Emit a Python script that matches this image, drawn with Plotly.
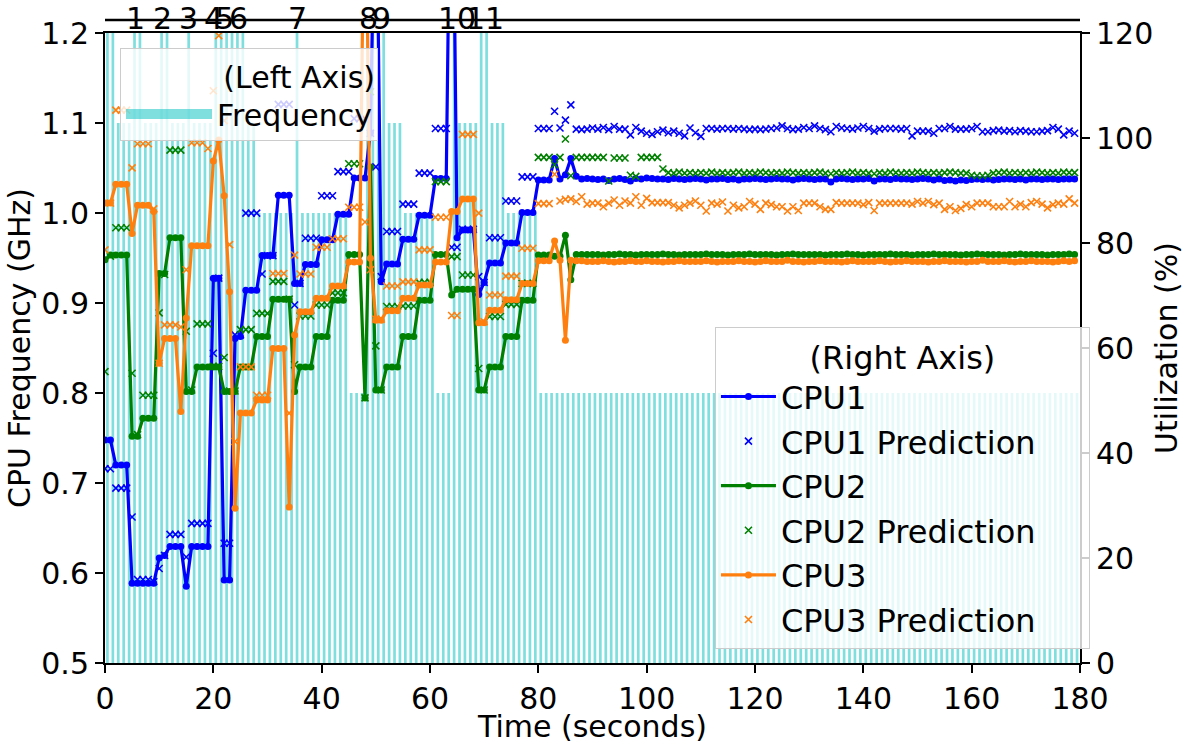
import plotly.graph_objects as go

# ---------------- data ----------------
time_s = list(range(180))

freq_ghz = [
    1.4, 1.4, 1.1, 1.1, 1.1, 1.4, 1.4, 1.1, 1.1, 1.1,
    1.4, 1.4, 1.1, 1.1, 1.1, 1.4, 1.1, 1.1, 1.1, 1.1,
    1.4, 1.4, 1.4, 1.4, 1.4, 1.4, 1.1, 1.1, 1.0, 1.0,
    1.0, 1.0, 1.0, 1.0, 1.0, 1.4, 1.0, 1.0, 1.0, 1.0,
    1.0, 1.0, 1.0, 1.0, 1.0, 0.8, 0.8, 0.8, 1.4, 1.4,
    1.4, 1.4, 1.1, 1.1, 1.1, 1.0, 1.0, 1.0, 1.0, 1.0,
    1.0, 0.8, 0.8, 0.8, 1.4, 1.1, 1.1, 1.1, 1.1, 1.4,
    1.4, 1.1, 1.1, 1.1, 1.0, 1.0, 1.0, 1.0, 1.0, 1.0,
    0.8, 0.8, 0.8, 0.8, 0.8, 0.8, 0.8, 0.8, 0.8, 0.8,
    0.8, 0.8, 0.8, 0.8, 0.8, 0.8, 0.8, 0.8, 0.8, 0.8,
    0.8, 0.8, 0.8, 0.8, 0.8, 0.8, 0.8, 0.8, 0.8, 0.8,
    0.8, 0.8, 0.8, 0.8, 0.8, 0.8, 0.8, 0.8, 0.8, 0.8,
    0.8, 0.8, 0.8, 0.8, 0.8, 0.8, 0.8, 0.8, 0.8, 0.8,
    0.8, 0.8, 0.8, 0.8, 0.8, 0.8, 0.8, 0.8, 0.8, 0.8,
    0.8, 0.8, 0.8, 0.8, 0.8, 0.8, 0.8, 0.8, 0.8, 0.8,
    0.8, 0.8, 0.8, 0.8, 0.8, 0.8, 0.8, 0.8, 0.8, 0.8,
    0.8, 0.8, 0.8, 0.8, 0.8, 0.8, 0.8, 0.8, 0.8, 0.8,
    0.8, 0.8, 0.8, 0.8, 0.8, 0.8, 0.8, 0.8, 0.8, 0.8,
]

cpu1_util = [
    42.5, 42.5, 37.7, 37.7, 37.7, 15.2, 15.2, 15.2, 15.2, 15.2,
    20.0, 20.5, 22.2, 22.2, 22.2, 14.6, 22.2, 22.2, 22.2, 22.2,
    73.3, 73.3, 15.8, 15.8, 61.8, 62.2, 71.0, 71.0, 71.0, 77.6,
    77.6, 77.6, 89.1, 89.1, 89.1, 72.3, 72.3, 75.9, 75.9, 75.9,
    80.6, 80.6, 80.6, 85.5, 85.5, 85.5, 92.4, 92.4, 92.4, 101.0,
    160.0, 72.6, 76.0, 76.0, 76.0, 80.7, 80.7, 80.7, 85.3, 85.3,
    85.3, 92.3, 92.3, 92.3, 175.0, 81.0, 82.5, 82.5, 82.5, 70.2,
    72.5, 76.2, 76.2, 76.2, 80.0, 80.0, 80.0, 85.8, 85.8, 85.8,
    92.0, 92.0, 92.0, 96.1, 92.2, 93.0, 96.1, 92.7, 92.2, 92.3,
    92.2, 92.1, 92.2, 91.9, 92.2, 92.3, 92.1, 91.8, 92.3, 92.2,
    92.4, 92.3, 92.2, 92.2, 92.1, 92.3, 92.2, 92.1, 92.2, 92.3,
    92.2, 92.0, 92.2, 92.2, 92.3, 92.1, 92.2, 92.0, 92.2, 92.2,
    92.3, 92.2, 92.1, 92.2, 92.3, 92.2, 92.2, 92.0, 92.2, 92.3,
    92.2, 92.1, 92.2, 92.2, 91.6, 92.2, 92.3, 92.2, 92.1, 92.2,
    92.2, 92.3, 91.8, 92.2, 92.2, 92.1, 92.3, 92.2, 92.2, 92.1,
    92.2, 92.3, 92.2, 92.0, 92.2, 91.9, 92.0, 91.8, 92.0, 91.9,
    92.1, 92.2, 92.1, 92.2, 92.0, 92.1, 92.2, 92.2, 92.1, 92.2,
    92.0, 92.2, 92.2, 92.1, 92.2, 92.2, 92.1, 92.2, 92.2, 92.2,
]

cpu1_pred = [
    37.0, 37.0, 33.3, 33.3, 33.3, 27.8, 15.9, 15.9, 15.9, 15.5,
    18.0, 20.5, 24.5, 24.5, 24.5, 20.2, 26.6, 26.6, 26.6, 26.6,
    59.0, 73.3, 22.8, 22.8, 62.5, 62.5, 85.7, 85.7, 85.7, 74.1,
    77.6, 77.6, 106.4, 106.4, 106.4, 68.2, 72.3, 80.9, 80.9, 80.9,
    89.0, 89.0, 89.0, 93.6, 93.6, 93.6, 103.7, 103.7, 103.7, 100.9,
    94.5, 73.6, 82.2, 82.2, 82.2, 87.4, 87.4, 87.4, 93.3, 93.3,
    93.3, 101.8, 101.8, 101.8, 79.2, 79.2, 82.6, 82.6, 82.6, 73.6,
    72.5, 81.0, 81.0, 81.0, 88.0, 88.0, 88.0, 92.6, 92.6, 92.6,
    101.8, 101.8, 101.8, 105.1, 101.9, 103.4, 106.3, 101.7, 101.6, 101.7,
    101.9, 101.7, 102.0, 101.6, 102.2, 101.7, 101.7, 100.6, 102.0, 101.3,
    100.9, 100.7, 101.2, 101.5, 101.0, 101.3, 100.9, 100.4, 101.9, 101.0,
    100.3, 101.8, 101.8, 101.7, 101.8, 101.8, 101.7, 101.8, 101.7, 101.6,
    101.7, 101.6, 101.7, 101.8, 101.9, 102.3, 101.8, 101.6, 101.7, 102.0,
    101.8, 102.3, 101.8, 101.6, 101.2, 102.2, 101.9, 101.8, 101.7, 101.9,
    102.2, 101.8, 101.3, 101.7, 101.8, 101.8, 101.8, 101.7, 101.8, 100.4,
    101.3, 101.3, 101.3, 100.9, 101.8, 101.8, 102.2, 101.7, 101.7, 101.7,
    101.8, 102.2, 101.2, 101.2, 101.4, 101.5, 101.3, 101.4, 101.2, 101.4,
    101.3, 101.2, 101.2, 101.3, 101.4, 102.0, 101.7, 100.6, 101.3, 100.9,
]

cpu2_util = [
    76.8, 77.7, 77.7, 77.7, 77.7, 43.2, 43.2, 46.6, 46.6, 46.6,
    74.2, 74.2, 81.0, 81.0, 81.0, 51.7, 51.7, 56.4, 56.4, 56.4,
    56.4, 56.4, 51.7, 51.7, 51.7, 56.4, 56.4, 56.4, 62.2, 62.2,
    62.2, 69.3, 69.3, 69.3, 69.3, 51.7, 56.4, 56.4, 56.4, 62.2,
    62.2, 62.2, 69.1, 69.1, 69.1, 77.8, 77.8, 77.8, 50.5, 94.5,
    52.0, 52.0, 56.4, 56.4, 56.4, 62.2, 62.2, 62.2, 69.1, 69.1,
    69.1, 77.8, 77.8, 77.8, 70.1, 71.2, 71.2, 71.2, 71.2, 52.0,
    52.0, 56.4, 56.4, 56.4, 62.2, 62.2, 62.2, 69.1, 69.1, 69.1,
    77.7, 77.7, 77.7, 77.5, 77.5, 81.5, 73.0, 77.8, 77.8, 77.8,
    77.8, 77.8, 77.7, 77.8, 77.8, 77.9, 77.8, 77.8, 77.7, 77.8,
    77.8, 77.8, 77.8, 77.9, 77.8, 77.8, 77.7, 77.8, 77.8, 77.8,
    77.8, 77.9, 77.8, 77.8, 77.8, 77.7, 77.8, 77.8, 77.8, 77.9,
    77.8, 77.8, 77.8, 77.8, 77.7, 77.8, 77.8, 77.9, 77.8, 77.8,
    77.8, 77.8, 77.8, 77.7, 77.8, 77.8, 77.8, 77.9, 77.8, 77.8,
    77.7, 77.8, 77.8, 77.8, 77.8, 77.9, 77.8, 77.8, 77.8, 77.7,
    77.8, 77.8, 77.8, 77.9, 77.8, 77.8, 77.8, 77.8, 77.7, 77.8,
    77.8, 77.9, 77.8, 77.8, 77.8, 77.8, 77.7, 77.8, 77.8, 77.9,
    77.8, 77.8, 77.8, 77.8, 77.7, 77.8, 77.8, 77.8, 77.9, 77.8,
]

cpu2_pred = [
    55.5, 77.5, 82.9, 82.9, 82.9, 55.2, 43.5, 51.0, 51.0, 51.0,
    66.7, 74.0, 97.7, 97.7, 97.7, 63.2, 52.0, 64.6, 64.6, 64.6,
    56.5, 56.5, 58.2, 51.8, 51.8, 63.5, 63.5, 63.5, 66.6, 66.6,
    66.6, 72.7, 72.7, 72.7, 69.3, 56.8, 66.1, 66.1, 66.1, 68.2,
    68.2, 68.2, 70.5, 70.5, 70.5, 95.1, 95.1, 95.1, 50.5, 108.8,
    60.4, 52.0, 67.9, 67.9, 67.9, 68.0, 68.0, 68.0, 72.5, 72.5,
    72.5, 91.7, 91.7, 91.7, 77.4, 77.4, 73.9, 73.9, 73.9, 56.1,
    52.0, 66.0, 66.0, 66.0, 68.3, 68.3, 68.3, 72.3, 72.3, 72.3,
    96.3, 96.3, 96.3, 94.9, 96.3, 99.8, 92.8, 96.3, 96.3, 96.3,
    96.3, 96.3, 96.3, 91.8, 96.2, 96.2, 96.2, 92.9, 92.7, 96.3,
    96.3, 96.3, 96.3, 94.1, 93.4, 93.3, 93.5, 93.3, 93.4, 93.3,
    93.4, 93.3, 93.5, 93.3, 93.4, 93.3, 93.4, 93.5, 93.3, 93.4,
    93.3, 93.5, 93.4, 93.3, 93.4, 93.3, 93.5, 93.4, 93.3, 93.4,
    93.3, 93.4, 93.5, 93.3, 93.2, 93.4, 93.3, 93.4, 93.5, 93.3,
    93.4, 93.3, 93.2, 93.4, 93.3, 93.5, 93.4, 93.3, 93.4, 93.3,
    93.5, 93.4, 93.3, 93.4, 93.3, 93.4, 93.5, 93.4, 93.3, 93.3,
    92.9, 92.8, 92.8, 92.9, 93.3, 93.4, 93.5, 93.3, 93.4, 93.3,
    93.4, 93.3, 93.5, 93.4, 93.3, 93.4, 93.3, 93.5, 93.4, 93.4,
]

cpu3_util = [
    87.6, 87.6, 91.2, 91.2, 91.2, 81.8, 87.2, 87.2, 87.2, 86.0,
    57.1, 61.8, 61.8, 61.8, 47.9, 65.7, 79.5, 79.5, 79.5, 79.5,
    95.6, 99.6, 89.0, 70.7, 29.5, 47.6, 47.6, 47.6, 50.1, 50.1,
    50.1, 59.9, 59.9, 59.9, 29.7, 62.5, 66.9, 66.9, 66.9, 69.5,
    69.5, 69.5, 71.8, 71.8, 71.8, 76.4, 76.4, 76.4, 160.0, 77.1,
    65.3, 65.3, 67.1, 67.1, 67.1, 69.5, 69.5, 69.5, 72.0, 72.0,
    72.0, 76.4, 76.4, 76.4, 86.0, 86.0, 88.4, 88.4, 88.4, 64.8,
    64.8, 67.2, 67.2, 67.2, 69.2, 69.2, 69.2, 72.3, 72.3, 72.3,
    76.6, 76.6, 76.6, 80.4, 76.7, 61.5, 76.7, 76.6, 76.6, 76.5,
    76.5, 76.5, 76.6, 76.5, 76.4, 76.5, 76.5, 76.6, 76.5, 76.5,
    76.6, 76.5, 76.5, 76.4, 76.5, 76.5, 76.6, 76.5, 76.5, 76.5,
    76.5, 76.6, 76.5, 76.4, 76.5, 76.5, 76.5, 76.6, 76.5, 76.5,
    76.4, 76.5, 76.6, 76.5, 76.5, 76.5, 76.7, 76.5, 76.5, 76.4,
    76.5, 76.5, 76.6, 76.5, 76.5, 76.5, 76.4, 76.5, 76.6, 76.5,
    76.5, 76.5, 76.5, 76.6, 76.5, 76.4, 76.5, 76.5, 76.6, 76.5,
    76.5, 76.5, 76.4, 76.5, 76.5, 76.6, 76.5, 76.5, 76.5, 76.4,
    76.5, 76.5, 76.7, 76.5, 76.5, 76.5, 76.6, 76.5, 76.4, 76.5,
    76.5, 76.6, 76.5, 76.5, 76.5, 76.4, 76.5, 76.6, 76.5, 76.6,
]

cpu3_pred = [
    78.7, 87.6, 105.3, 105.3, 105.3, 94.3, 98.9, 98.9, 98.9, 86.5,
    57.1, 64.4, 64.4, 64.4, 64.0, 74.9, 99.1, 99.1, 99.1, 98.0,
    109.0, 119.5, 103.3, 79.7, 42.2, 56.4, 56.4, 56.4, 51.0, 51.0,
    51.0, 74.2, 74.2, 74.2, 47.6, 77.7, 74.1, 74.1, 74.1, 79.2,
    79.2, 79.2, 80.8, 80.8, 80.8, 86.8, 86.8, 86.8, 84.0, 74.9,
    65.5, 65.5, 71.8, 71.8, 71.8, 72.6, 72.6, 72.6, 78.7, 78.7,
    78.7, 84.9, 84.9, 84.9, 66.2, 66.2, 100.7, 100.7, 100.7, 85.7,
    65.0, 70.1, 70.1, 70.1, 73.7, 73.7, 73.7, 79.0, 79.0, 79.0,
    87.5, 87.5, 87.5, 93.1, 88.0, 88.3, 88.4, 87.9, 88.8, 87.4,
    87.6, 87.6, 86.9, 87.6, 88.2, 87.2, 88.0, 87.6, 88.8, 87.2,
    88.5, 87.7, 87.7, 87.7, 87.7, 87.2, 86.7, 87.2, 87.6, 88.0,
    87.2, 86.1, 87.6, 87.4, 87.8, 86.1, 87.2, 86.7, 86.9, 87.9,
    87.4, 86.4, 87.6, 87.3, 86.9, 86.9, 86.1, 86.9, 86.2, 87.6,
    87.6, 87.6, 86.9, 86.4, 86.4, 87.7, 87.6, 87.6, 87.6, 87.6,
    87.3, 87.7, 86.2, 87.6, 87.6, 87.6, 87.6, 87.6, 87.6, 87.4,
    87.9, 87.6, 87.9, 87.3, 87.6, 86.4, 86.9, 86.2, 86.6, 87.3,
    86.9, 87.6, 87.6, 87.6, 86.9, 86.9, 86.9, 87.9, 86.9, 87.4,
    86.9, 87.7, 87.9, 87.4, 86.7, 87.3, 87.6, 87.4, 88.4, 87.6,
]

event_times = [5.6, 10.6, 15.5, 20.0, 22.0, 24.6, 35.5, 48.6, 51.1, 64.9, 70.2]
event_labels = ["1", "2", "3", "4", "5", "6", "7", "8", "9", "10", "11"]

for arr in (freq_ghz, cpu1_util, cpu1_pred, cpu2_util, cpu2_pred, cpu3_util, cpu3_pred):
    assert len(arr) == len(time_s), len(arr)

# ---------------- figure ----------------
FONT = "DejaVu Sans"
BLUE, GREEN, ORANGE = "#0000ff", "#008000", "#ff7f0e"
BAR_COLOR = "rgba(0,191,191,0.5)"
NB = "\u00a0"

fig = go.Figure()

fig.add_trace(go.Bar(
    x=time_s, y=freq_ghz, width=0.5, offset=0.2,
    marker=dict(color=BAR_COLOR, line=dict(width=0)),
    name="Frequency", yaxis="y", showlegend=False,
))
# legend swatch for the frequency bars (wide patch like the reference)
fig.add_trace(go.Scatter(
    x=[None], y=[None], mode="lines", name="Frequency",
    line=dict(color=BAR_COLOR, width=20), yaxis="y", legend="legend2",
))

series = [
    ("CPU1", cpu1_util, cpu1_pred, BLUE),
    ("CPU2", cpu2_util, cpu2_pred, GREEN),
    ("CPU3", cpu3_util, cpu3_pred, ORANGE),
]
for name, util, pred, color in series:
    fig.add_trace(go.Scatter(
        x=time_s, y=util, mode="lines+markers", name=name,
        line=dict(color=color, width=3.2),
        marker=dict(color=color, size=7),
        yaxis="y2", legend="legend",
    ))
    fig.add_trace(go.Scatter(
        x=time_s, y=pred, mode="markers", name=name + " Prediction",
        marker=dict(symbol="x-thin", size=7, color=color,
                    line=dict(color=color, width=1.6)),
        yaxis="y2", legend="legend",
    ))

for t, lab in zip(event_times, event_labels):
    fig.add_annotation(x=t, xref="x", y=1.023, yref="paper", text=lab,
                       showarrow=False, yanchor="middle", xanchor="center",
                       font=dict(family=FONT, size=30, color="black"))

fig.add_shape(type="line", xref="paper", yref="paper", x0=0, x1=1,
              y0=1.0206, y1=1.0206, line=dict(color="black", width=2.5))

axis_common = dict(
    showgrid=False, zeroline=False, showline=True, linecolor="black",
    linewidth=2, ticks="outside", ticklen=8, tickwidth=2, tickcolor="black",
    tickfont=dict(family=FONT, size=30, color="black"),
)

fig.update_layout(
    width=1194, height=744,
    margin=dict(l=105, r=114, t=33, b=81, autoexpand=False),
    plot_bgcolor="white", paper_bgcolor="white",
    font=dict(family=FONT, size=30, color="black"),
    showlegend=True,
    xaxis=dict(range=[0, 180], tick0=0, dtick=20, mirror=True,
               title=dict(text="Time (seconds)", standoff=0,
                          font=dict(family=FONT, size=30)),
               **axis_common),
    yaxis=dict(range=[0.5, 1.2], tick0=0.5, dtick=0.1, tickformat=".1f",
               title=dict(text="CPU Frequency (GHz)", standoff=2,
                          font=dict(family=FONT, size=30)),
               **axis_common),
    yaxis2=dict(range=[0, 120], tick0=0, dtick=20, overlaying="y",
                side="right",
                title=dict(text="Utilization (%)", standoff=4,
                           font=dict(family=FONT, size=30)),
                **axis_common),
    legend=dict(
        x=0.6256, y=0.534, xanchor="left", yanchor="top",
        bgcolor="rgba(255,255,255,0.8)", bordercolor="#cccccc", borderwidth=1,
        font=dict(family=FONT, size=32), itemwidth=55,
        title=dict(text=NB * 9 + "(Right Axis)" + NB * 9, side="top center",
                   font=dict(family=FONT, size=32)),
    ),
    legend2=dict(
        x=0.0154, y=0.976, xanchor="left", yanchor="top",
        bgcolor="rgba(255,255,255,0.8)", bordercolor="#cccccc", borderwidth=1,
        font=dict(family=FONT, size=30), itemwidth=86,
        title=dict(text="(Left Axis)", side="top right",
                   font=dict(family=FONT, size=30)),
    ),
)

fig.write_html("out.html")
